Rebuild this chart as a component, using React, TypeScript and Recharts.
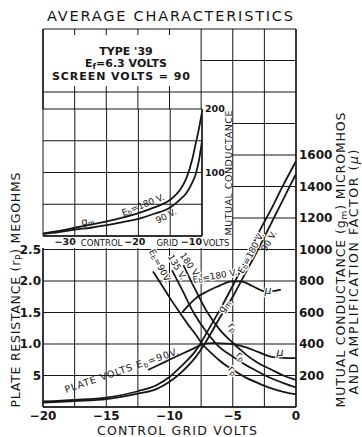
import React from 'react'
import { LineChart, Line, XAxis, YAxis, CartesianGrid } from 'recharts'

const FONT = '"DejaVu Sans", Verdana, sans-serif'
const INK = '#161616'

// main chart: control grid volts -20 .. 0
const gmVolts = [-20, -17.5, -15, -12.5, -11, -10, -9, -8, -7.5, -7, -6, -5, -4, -3, -2, -1, 0]
const gm180 = [35, 45, 60, 100, 140, 190, 265, 350, 410, 480, 620, 770, 930, 1100, 1250, 1410, 1560]
const gm90 = [28, 38, 50, 85, 115, 160, 225, 310, 365, 430, 570, 700, 850, 1000, 1160, 1320, 1480]

// plate resistance, megohms
const rp90Volts = [-11.3, -10.5, -10, -9.3, -8.5, -8, -7.4, -6.5, -6, -5, -4, -3, -2, -1, 0]
const rp90 = [2.15, 1.9, 1.74, 1.53, 1.3, 1.17, 1.0, 0.82, 0.73, 0.59, 0.47, 0.38, 0.3, 0.24, 0.2]
const rp135Volts = [-9.8, -9, -8.1, -7, -6.2, -5, -4, -3, -2, -1, 0]
const rp135 = [2.17, 1.86, 1.5, 1.17, 0.98, 0.8, 0.67, 0.56, 0.46, 0.38, 0.31]
const rp180Volts = [-8.9, -8, -7, -6, -5, -4, -3, -2, -1, 0]
const rp180 = [2.25, 1.88, 1.5, 1.22, 1.02, 0.84, 0.7, 0.6, 0.5, 0.43]

// amplification factor (right scale)
const mu180Volts = [-9, -8.5, -8, -7, -6, -5.5, -5, -4.5, -4, -3.5, -3, -2.5, -2, -1.5, -1.2]
const mu180 = [600, 645, 685, 735, 772, 790, 798, 798, 790, 770, 750, 735, 735, 740, 745]
const mu90Volts = [-11.7, -11, -10, -9, -8, -7.4, -6.5, -5.5, -4.5, -4, -3, -2, -1, 0]
const mu90 = [235, 262, 300, 338, 375, 398, 405, 403, 392, 380, 350, 320, 312, 310]

// inset: grid volts -35 .. -10
const insetVolts = [-35, -32.5, -30, -27.5, -25, -22.5, -20, -17.5, -15, -13.5, -12.5, -11.5, -11, -10.5, -10]
const insetGm180 = [4, 8, 13, 18, 23, 29, 36, 45, 57, 72, 90, 122, 145, 168, 195]
const insetGm90 = [3, 6, 10, 13, 17, 22, 27, 35, 45, 57, 67, 85, 97, 118, 150]

const xTicks = [-20, -17.5, -15, -12.5, -10, -7.5, -5, -2.5, 0]
const gTicks = [0, 200, 400, 600, 800, 1000, 1200, 1400, 1600, 1800, 2000, 2200, 2400]
const gLabels = [200, 400, 600, 800, 1000, 1200, 1400, 1600]
const rTicks = [0.5, 1, 1.5, 2, 2.5]
const insetXTicks = [-35, -30, -25, -20, -15, -10]
const insetYTicks = [0, 50, 100, 150, 200]
const insetWords: Record<string, string> = { '-30': 'CONTROL', '-20': 'GRID', '-10': 'VOLTS' }

const zip = (xs: number[], ys: number[]) => xs.map((v, i) => ({ v, y: ys[i] }))

const minus = (v: number) => (v < 0 ? '\u2212' + Math.abs(v) : String(v))

const lineProps = {
  type: 'monotone' as const,
  dataKey: 'y',
  dot: false,
  activeDot: false,
  stroke: INK,
  strokeWidth: 1.8,
  isAnimationActive: false,
}

const tickStyle = { fill: INK, fontSize: 12, fontFamily: FONT, fontWeight: 700 }

function InsetTick(props: any) {
  const { x, y, payload } = props
  const word = insetWords[String(payload.value)]
  if (!word) return null
  const v = payload.value
  const numEnd = v === -20 ? x + 7 : v === -30 ? x + 1 : x
  const wordStart = v === -20 ? x + 18 : v === -30 ? x + 6 : x + 1
  return (
    <g fill={INK} fontFamily={FONT}>
      <text x={numEnd} y={y + 9} textAnchor="end" fontSize={9.5} fontWeight={700}>
        {minus(v)}
      </text>
      <text x={wordStart} y={y + 10} fontSize={8.5}>
        {word}
      </text>
    </g>
  )
}

function Lbl({ x, y, a = 0, size = 9, halo = false, children }: any) {
  return (
    <text
      transform={`translate(${x},${y}) rotate(${a})`}
      textAnchor="middle"
      dominantBaseline="central"
      fontSize={size}
      fill={INK}
      stroke={halo ? '#fff' : 'none'}
      strokeWidth={halo ? 2.5 : 0}
      paintOrder="stroke"
    >
      {children}
    </text>
  )
}

// base letter with a lowered small letter, then the rest of the text
function SubText({ base, sub, rest }: { base: string; sub: string; rest?: string }) {
  return (
    <>
      {base}
      <tspan fontSize="0.72em" dy={2}>{sub}</tspan>
      {rest ? <tspan dy={-2}>{rest}</tspan> : null}
    </>
  )
}

export default function App() {
  return (
    <div style={{ position: 'absolute', left: 0, top: 0, width: 362, height: 437, background: '#fff', fontFamily: FONT }}>
      <LineChart width={362} height={437} margin={{ top: 29, right: 0, bottom: 0, left: 0 }}>
        <CartesianGrid yAxisId="g" stroke={INK} strokeWidth={1} />
        <XAxis
          dataKey="v"
          type="number"
          domain={[-20, 0]}
          allowDataOverflow
          ticks={xTicks}
          interval={0}
          height={30}
          tickSize={0}
          tickMargin={4}
          tickFormatter={(v: number) => (v % 5 === 0 ? minus(v) : '')}
          tick={tickStyle}
          axisLine={{ stroke: INK, strokeWidth: 1.4 }}
        />
        <YAxis
          yAxisId="r"
          orientation="left"
          width={43}
          domain={[0, 6]}
          ticks={rTicks}
          interval={0}
          tickSize={0}
          tickMargin={2}
          tickFormatter={(v: number) => (v === 0.5 ? '5' : v.toFixed(1))}
          tick={tickStyle}
          axisLine={{ stroke: INK, strokeWidth: 1.4 }}
        />
        <YAxis
          yAxisId="g"
          orientation="right"
          width={66}
          domain={[0, 2400]}
          ticks={gTicks}
          interval={0}
          tickSize={0}
          tickMargin={3}
          tickFormatter={(v: number) => (gLabels.includes(v) ? String(v) : '')}
          tick={tickStyle}
          axisLine={{ stroke: INK, strokeWidth: 1.4 }}
        />
        <Line {...lineProps} yAxisId="g" data={zip(gmVolts, gm180)} />
        <Line {...lineProps} yAxisId="g" data={zip(gmVolts, gm90)} />
        <Line {...lineProps} yAxisId="r" data={zip(rp90Volts, rp90)} />
        <Line {...lineProps} yAxisId="r" data={zip(rp135Volts, rp135)} />
        <Line {...lineProps} yAxisId="r" data={zip(rp180Volts, rp180)} />
        <Line {...lineProps} yAxisId="g" data={zip(mu180Volts, mu180)} />
        <Line {...lineProps} yAxisId="g" data={zip(mu90Volts, mu90)} />
      </LineChart>

      {/* inset: low-current end of the mutual conductance curves */}
      <div
        style={{
          position: 'absolute',
          left: 42,
          top: 100,
          width: 190,
          height: 148,
          background: 'linear-gradient(rgba(255,255,255,0) 9px, #fff 9px)',
        }}
      >
        <LineChart width={190} height={148} margin={{ top: 9, right: 0, bottom: 0, left: 1 }}>
          <CartesianGrid stroke={INK} strokeWidth={1} />
          <XAxis
            dataKey="v"
            type="number"
            domain={[-35, -10]}
            allowDataOverflow
            ticks={insetXTicks}
            interval={0}
            height={12}
            tickSize={0}
            tickMargin={0}
            tick={<InsetTick />}
            axisLine={{ stroke: INK, strokeWidth: 1.4 }}
          />
          <YAxis
            orientation="right"
            width={30}
            domain={[0, 200]}
            ticks={insetYTicks}
            interval={0}
            tickSize={0}
            tickMargin={3}
            tickFormatter={(v: number) => (v === 100 || v === 200 ? String(v) : '')}
            tick={{ fill: INK, fontSize: 9.5, fontFamily: FONT, fontWeight: 700 }}
            axisLine={{ stroke: INK, strokeWidth: 1.4 }}
          />
          <Line {...lineProps} data={zip(insetVolts, insetGm180)} />
          <Line {...lineProps} data={zip(insetVolts, insetGm90)} />
        </LineChart>
      </div>

      <svg
        width={362}
        height={437}
        style={{ position: 'absolute', left: 0, top: 0, pointerEvents: 'none' }}
        fontFamily={FONT}
      >
        <text x={47} y={21} fontSize={14.5} fill={INK} textLength={246} lengthAdjust="spacing">
          AVERAGE CHARACTERISTICS
        </text>

        <rect x={44} y={35} width={156} height={51} fill="#fff" />
        <g fill={INK} fontWeight={700} fontSize={11} textAnchor="middle">
          <text x={126} y={55}>TYPE '39</text>
          <text x={126} y={67}>
            <SubText base="E" sub="f" rest="=6.3 VOLTS" />
          </text>
          <text x={121} y={80} textLength={138} lengthAdjust="spacing">
            SCREEN VOLTS = 90
          </text>
        </g>

        <g fill={INK} fontSize={12.5}>
          <text transform="translate(20,290) rotate(-90)" textAnchor="middle" textLength={235} lengthAdjust="spacing">
            PLATE RESISTANCE (<SubText base="r" sub="P" rest=") MEGOHMS" />
          </text>
          <text transform="translate(345,260) rotate(-90)" textAnchor="middle" textLength={295} lengthAdjust="spacing">
            MUTUAL CONDUCTANCE (<SubText base="g" sub="m" rest=") MICROMHOS" />
          </text>
          <text transform="translate(358,272) rotate(-90)" textAnchor="middle" textLength={245} lengthAdjust="spacing">
            AND AMPLIFICATION FACTOR (<tspan fontStyle="italic">μ</tspan>)
          </text>
          <text x={97} y={435} textLength={160} lengthAdjust="spacing">
            CONTROL GRID VOLTS
          </text>
        </g>

        <text transform="translate(232,173) rotate(-90)" textAnchor="middle" fontSize={9.5} fill={INK} textLength={125} lengthAdjust="spacing">
          MUTUAL CONDUCTANCE
        </text>

        {/* inset curve labels */}
        <Lbl x={88} y={221} a={-8} size={10}><SubText base="g" sub="m" /></Lbl>
        <Lbl x={143} y={205} a={-22}><SubText base="E" sub="b" rest="=180 V." /></Lbl>
        <Lbl x={166} y={216} a={-28}>90 V.</Lbl>

        {/* main curve labels */}
        <Lbl x={251} y={253} a={-62} halo><SubText base="E" sub="b" rest="=180 V." /></Lbl>
        <Lbl x={269} y={241} a={-60}>90 V.</Lbl>
        <Lbl x={224} y={306} a={-55} size={10} halo><SubText base="g" sub="m" /></Lbl>
        <Lbl x={160} y={266} a={62} halo><SubText base="E" sub="b" rest="=90V." /></Lbl>
        <Lbl x={177} y={267} a={60} halo>135 V.</Lbl>
        <Lbl x={190} y={265} a={55} halo>180 V.</Lbl>
        <Lbl x={215} y={276} a={-10} halo><SubText base="E" sub="b" rest="=180 V." /></Lbl>
        <Lbl x={233} y={327} a={50} size={10} halo><SubText base="r" sub="p" /></Lbl>
        <Lbl x={241} y={356} a={45} size={10} halo><SubText base="r" sub="p" /></Lbl>
        <Lbl x={233} y={370} a={45} size={10} halo><SubText base="r" sub="p" /></Lbl>
        <Lbl x={268} y={290} size={11} halo><tspan fontStyle="italic">μ</tspan></Lbl>
        <Lbl x={280} y={352} size={11} halo><tspan fontStyle="italic">μ</tspan></Lbl>
        <text transform="translate(66,393) rotate(-19)" fontSize={9.5} fill={INK} textLength={120} lengthAdjust="spacing">
          PLATE VOLTS <SubText base="E" sub="b" rest="=90V." />
        </text>
      </svg>
    </div>
  )
}
